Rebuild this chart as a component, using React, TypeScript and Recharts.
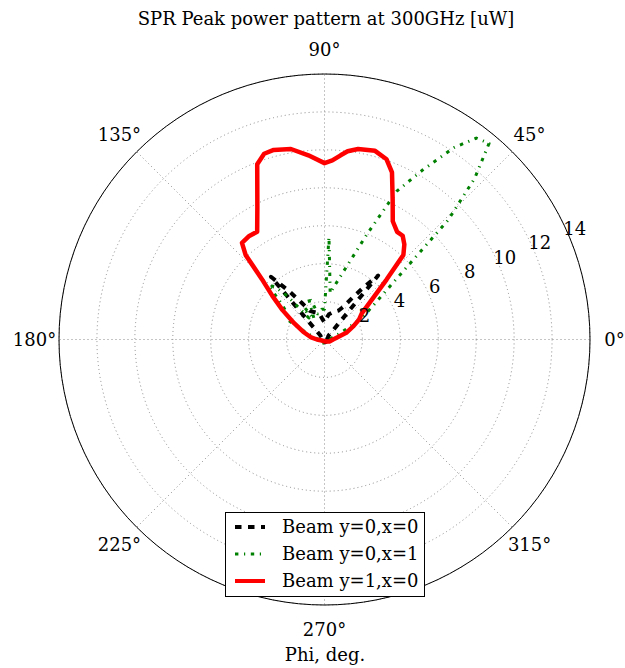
import {
  RadarChart,
  Radar,
  PolarGrid,
  PolarAngleAxis,
  PolarRadiusAxis,
  Legend,
} from 'recharts'

const FONT = '"DejaVu Serif", serif'
const FS = 18

// sample angles (deg) shared by all three beams
const phi = [
  0, 10, 17, 25, 30, 35, 40, 44, 47, 50,
  53, 56, 60, 64, 68, 71, 75, 80, 83, 85,
  87.5, 90, 95, 100, 105, 108, 111, 117, 122, 126,
  130.5, 133, 136, 140, 145, 152, 160, 170, 180, 200,
  225, 250, 270, 290, 315, 340,
]

// Beam y=0,x=0 (uW)
const beam00 = [
  0.15, 0.15, 0.15, 0.2, 0.2, 0.25, 0.25, 0.3, 0.6, 4.4,
  3.5, 2.7, 2.0, 1.7, 1.6, 1.5, 1.45, 1.35, 1.2, 1.1,
  0.95, 0.9, 1.05, 1.3, 1.45, 1.5, 1.55, 1.7, 2.3, 3.1,
  4.35, 0.6, 0.3, 0.25, 0.2, 0.2, 0.15, 0.15, 0.15, 0.15,
  0.15, 0.15, 0.15, 0.15, 0.15, 0.15,
]

// Beam y=0,x=1 (uW)
const beam01 = [
  0.3, 0.35, 0.6, 1.2, 2.3, 3.15, 4.9, 9.05, 11.6, 13.5,
  13.3, 12.2, 10.3, 8.7, 6.0, 4.65, 3.6, 2.8, 2.45, 3.25,
  5.4, 1.6, 1.6, 1.4, 1.4, 2.0, 2.4, 1.2, 2.0, 1.4,
  3.0, 3.8, 4.1, 3.0, 2.4, 2.2, 1.0, 0.5, 0.3, 0.25,
  0.2, 0.2, 0.2, 0.2, 0.25, 0.3,
]

// Beam y=1,x=0 (uW)
const beam10 = [
  0.45, 0.7, 1.2, 1.7, 2.1, 2.4, 3.25, 4.55, 6.1, 6.55,
  6.85, 6.85, 7.2, 8.2, 9.5, 10.05, 10.3, 10.2, 10.0, 9.75,
  9.45, 9.3, 9.75, 10.2, 10.35, 10.3, 9.9, 7.8, 6.7, 6.75,
  6.7, 6.1, 4.6, 3.6, 2.7, 1.8, 1.2, 0.75, 0.4, 0.15,
  0.1, 0.1, 0.1, 0.1, 0.15, 0.3,
]

const angleTicks = [0, 45, 90, 135, 180, 225, 270, 315]
const radiusTicks = [2, 4, 6, 8, 10, 12, 14]

const data = phi.map((p, i) => ({
  phi: p,
  b00: beam00[i],
  b01: beam01[i],
  b10: beam10[i],
}))

const SERIES = [
  { key: 'b00', name: 'Beam y=0,x=0', color: '#000000', width: 4, dash: '6.5 6.5' },
  { key: 'b01', name: 'Beam y=0,x=1', color: '#008000', width: 3, dash: '3.4 5.6 1.2 5.6' },
  { key: 'b10', name: 'Beam y=1,x=0', color: '#ff0000', width: 4.5, dash: undefined },
]

function AngleTick(props: any) {
  const { x, y, payload } = props
  if (payload.value === 360) return null
  return (
    <text x={x} y={y} textAnchor="middle" dominantBaseline="central"
      fontSize={FS} fontFamily={FONT} fill="#000">
      {payload.value}°
    </text>
  )
}

function RadiusTick(props: any) {
  const { x, y, payload } = props
  return (
    <text x={x + 5} y={y - 9.5} textAnchor="middle" dominantBaseline="central"
      fontSize={FS} fontFamily={FONT} fill="#000">
      {payload.value}
    </text>
  )
}

function LegendBox() {
  return (
    <div style={{
      width: 198, height: 83, border: '1px solid #000', background: '#fff',
      fontFamily: FONT, fontSize: FS, color: '#000',
    }}>
      {SERIES.map((s) => (
        <div key={s.key} style={{ display: 'flex', alignItems: 'center', height: 27 }}>
          <svg width={48} height={10} style={{ flex: 'none' }}>
            <line x1={9} x2={39} y1={5} y2={5} stroke={s.color}
              strokeWidth={s.width > 4 ? 4 : s.width} strokeDasharray={s.dash} />
          </svg>
          <span style={{ marginLeft: 8, whiteSpace: 'nowrap' }}>{s.name}</span>
        </div>
      ))}
    </div>
  )
}

export default function App() {
  return (
    <div style={{ position: 'absolute', left: 0, top: 0, width: 625, height: 668, background: '#fff' }}>
      <div style={{
        position: 'absolute', left: 0, width: 652, top: 8, lineHeight: '22px',
        textAlign: 'center', fontFamily: FONT, fontSize: FS,
      }}>
        SPR Peak power pattern at 300GHz [uW]
      </div>

      <RadarChart
        width={625}
        height={668}
        data={data}
        cx={324.5}
        cy={339.5}
        innerRadius={0}
        outerRadius={265.5}
        startAngle={0}
        endAngle={360}
        margin={{ top: 0, right: 0, bottom: 0, left: 0 }}
      >
        <PolarGrid gridType="circle" polarAngles={angleTicks}
          stroke="#8a8a8a" strokeDasharray="1 3" />
        <PolarAngleAxis
          dataKey="phi"
          type="number"
          domain={[0, 360]}
          ticks={angleTicks}
          tick={AngleTick}
          tickLine={false}
          tickSize={24.5}
          axisLineType="circle"
          axisLine={{ stroke: '#000', strokeWidth: 1 }}
        />
        <PolarRadiusAxis
          angle={22.5}
          type="number"
          domain={[0, 14]}
          ticks={radiusTicks}
          tick={RadiusTick}
          axisLine={false}
          tickLine={false}
        />
        {SERIES.map((s) => (
          <Radar
            key={s.key}
            dataKey={s.key}
            name={s.name}
            stroke={s.color}
            strokeWidth={s.width}
            strokeDasharray={s.dash}
            strokeLinejoin="round"
            fill="none"
            fillOpacity={0}
            dot={false}
            isAnimationActive={false}
          />
        ))}
        <Legend
          content={<LegendBox />}
          wrapperStyle={{ position: 'absolute', left: 225, top: 512, width: 200, height: 85 }}
        />
      </RadarChart>

      <div style={{
        position: 'absolute', left: 0, width: 650, top: 644, lineHeight: '22px',
        textAlign: 'center', fontFamily: FONT, fontSize: FS,
      }}>
        Phi, deg.
      </div>
    </div>
  )
}
